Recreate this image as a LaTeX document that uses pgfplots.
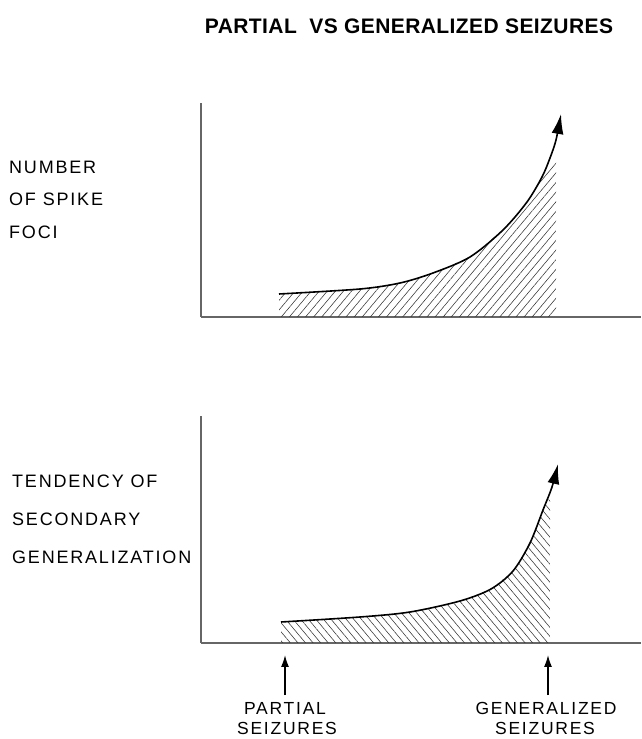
\documentclass[border=0pt]{standalone}
\usepackage{fontspec}
\setmainfont{Liberation Sans}
\newfontfamily\lab[LetterSpace=10]{Liberation Sans}
\newfontfamily\ttl[LetterSpace=2]{Liberation Sans}
\usepackage{pgfplots}
\pgfplotsset{compat=1.18}
\usetikzlibrary{arrows.meta,patterns.meta}

\begin{document}
\begin{tikzpicture}[x=1pt,y=1pt]
\useasboundingbox (0,0) rectangle (641,739);
\pgfplotsset{panel/.style={
  scale only axis, width=440pt, xmin=0, xmax=440, ymin=0,
  axis x line*=bottom, axis y line*=left,
  xtick=\empty, ytick=\empty,
  axis line style={black!60, line width=1.1pt},
  clip=false}}
% top panel
\begin{axis}[panel, height=214pt, ymax=214, at={(201pt,422pt)}, anchor=south west]
\addplot[draw=none, pattern={Lines[angle=50,distance=6.2pt,line width=0.55pt]}, pattern color=black!80]
  coordinates {(78,23)(159,28)(199,34)(232,44)(269,60)(302,87)(326,115)(341,140)(349,155)(355,162)} \closedcycle;
\addplot[black, line width=1.6pt, smooth, -{Latex[length=20pt,width=12pt]}]
  coordinates {(78,23)(159,28)(199,34)(232,44)(269,60)(302,87)(326,115)(341,140)(349,159)(355,177)(360,203)};
\end{axis}
% bottom panel
\begin{axis}[panel, height=227pt, ymax=227, at={(201pt,96pt)}, anchor=south west]
\addplot[draw=none, pattern={Lines[angle=-50,distance=5.8pt,line width=0.55pt]}, pattern color=black!80]
  coordinates {(80,21)(159,26)(209,31)(259,42)(290,54)(312,72)(329,100)(342,133)(349,146)} \closedcycle;
\addplot[black, line width=1.6pt, smooth, -{Latex[length=20pt,width=12pt]}]
  coordinates {(80,21)(159,26)(209,31)(259,42)(290,54)(312,72)(329,100)(342,133)(351,156)(357,179)};
\draw[black, line width=1.5pt, -{Latex[length=12pt,width=8pt]}] (axis cs:84,-52) -- (axis cs:84,-12);
\draw[black, line width=1.5pt, -{Latex[length=12pt,width=8pt]}] (axis cs:347,-52) -- (axis cs:347,-12);
\end{axis}
% texts
\node[inner sep=0] at (409,713) {\ttl\fontsize{21}{24}\selectfont\bfseries PARTIAL\ \ VS GENERALIZED SEIZURES};
\begin{scope}[every node/.style={inner sep=0, anchor=west, font=\lab\fontsize{18}{20}\selectfont}]
\node at (9,572) {NUMBER};
\node at (9,540) {OF SPIKE};
\node at (9,507) {FOCI};
\node at (12,258) {TENDENCY OF};
\node at (12,220) {SECONDARY};
\node at (12,182) {GENERALIZATION};
\end{scope}
\begin{scope}[every node/.style={inner sep=0, font=\lab\fontsize{17.5}{20}\selectfont}]
\node at (285,31) {PARTIAL};
\node at (287,11) {SEIZURES};
\node at (546,31) {GENERALIZED};
\node at (545,11) {SEIZURES};
\end{scope}
\end{tikzpicture}
\end{document}
